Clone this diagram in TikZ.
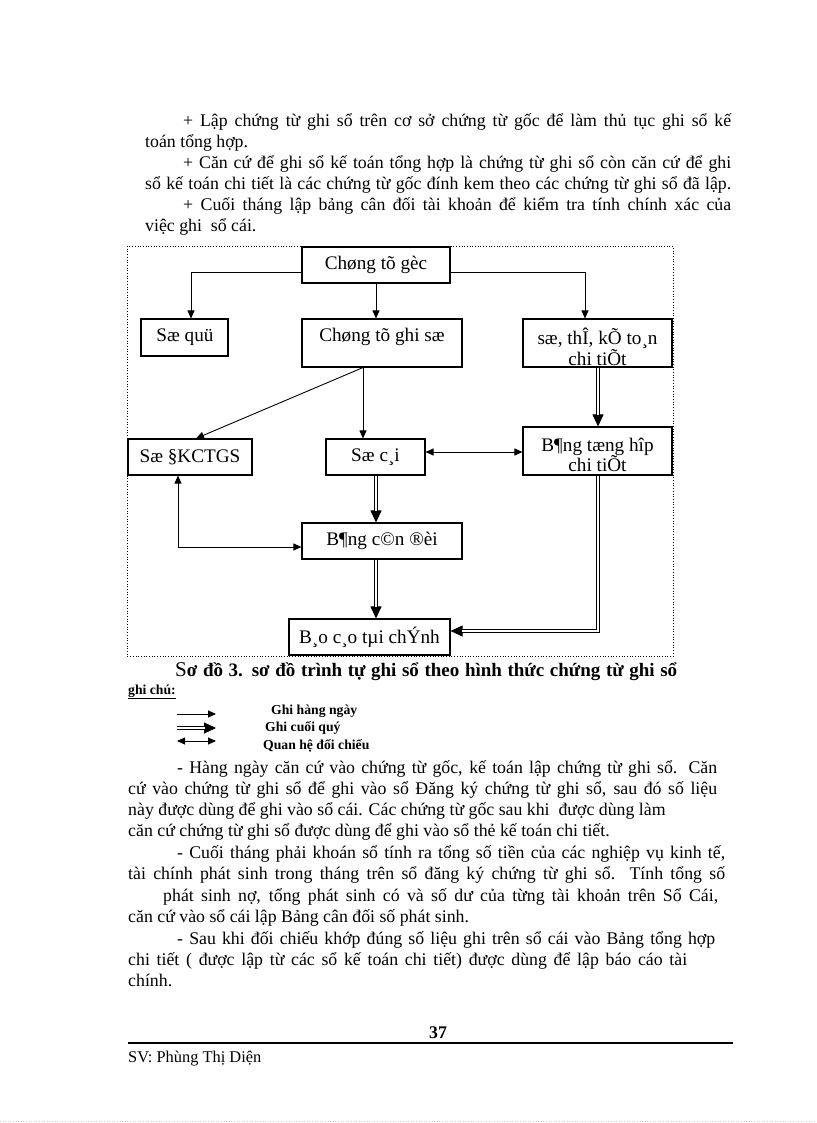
\documentclass[tikz,border=0pt]{standalone}
\usepackage{fontspec}
\setmainfont{Liberation Serif}
\usetikzlibrary{arrows.meta}
\begin{document}
\begin{tikzpicture}[x=1pt,y=-1pt,
  txt/.style={anchor=base west, inner sep=0pt, font=\fontsize{17.8}{21}\selectfont},
  box/.style={draw, line width=1.1pt, inner sep=0pt},
  blabel/.style={inner sep=0pt, align=center, font=\fontsize{19.2}{20.5}\selectfont},
  arr/.style={line width=0.9pt, -{Triangle[length=8pt,width=7pt]}},
  biarr/.style={line width=0.9pt, {Triangle[length=8pt,width=7pt]}-{Triangle[length=8pt,width=7pt]}},
  dbltip/.style={line width=0.9pt, -{Triangle[length=12pt,width=11pt]}},
  dblline/.style={double, double distance=2pt, line width=0.9pt, shorten >=11pt},
  legtxt/.style={anchor=base west, inner sep=0pt, font=\fontsize{13.7}{15}\selectfont\bfseries}
]
\useasboundingbox (0,0) rectangle (816,1123);
\fill[white] (0,0) rectangle (816,1123);

% ---------- top paragraph ----------
\node[txt] (t1) at (183,127) {\makebox[548pt][s]{+ Lập chứng từ ghi sổ trên cơ sở chứng từ gốc để làm thủ tục ghi sổ kế}};
\node[txt] (t2) at (145,148) {toán tổng hợp.};
\node[txt] (t3) at (183,169) {\makebox[548pt][s]{+ Căn cứ để ghi sổ kế toán tổng hợp là chứng từ ghi sổ còn căn cứ để ghi}};
\node[txt] (t4) at (145,190) {\makebox[586pt][s]{sổ kế toán chi tiết là các chứng từ gốc đính kem theo các chứng từ ghi sổ đã lập.}};
\node[txt] (t5) at (183,211) {\makebox[548pt][s]{+ Cuối tháng lập bảng cân đối tài khoản để kiểm tra tính chính xác của}};
\node[txt] (t6) at (145,232) {việc ghi\ \ sổ cái.};

% ---------- diagram ----------
\draw[dotted, line width=0.7pt] (127,246) rectangle (673,656);

\node[box, minimum width=148pt, minimum height=36pt] (goc) at (376,265) {};
\node[box, minimum width=87pt, minimum height=37pt] (quy) at (184.5,337.5) {};
\node[box, minimum width=160pt, minimum height=48pt] (ctgs) at (382,343) {};
\node[box, minimum width=149pt, minimum height=48pt] (thct) at (597.5,343) {};
\node[box, minimum width=124pt, minimum height=36pt] (dk) at (190,457) {};
\node[box, minimum width=99pt, minimum height=36pt] (cai) at (375.5,457) {};
\node[box, minimum width=149pt, minimum height=48pt] (thop) at (597.5,451) {};
\node[box, minimum width=160pt, minimum height=36pt] (cdoi) at (382,541) {};
\node[box, minimum width=161pt, minimum height=36pt] (bctc) at (369.5,637) {};

\node[blabel] (lgoc) at (376,265) {Chøng tõ gèc};
\node[blabel] (lquy) at (185,337) {Sæ quü};
\node[blabel] (lctgs) at (382,337) {Chøng tõ ghi sæ};
\node[blabel] (lthct) at (597.5,347) {sæ, thÎ, kÕ to¸n\\chi tiÕt};
\node[blabel] (ldk) at (190,457) {Sæ §KCTGS};
\node[blabel] (lcai) at (375.5,457) {Sæ c¸i};
\node[blabel] (lthop) at (597.5,455) {B¶ng tæng hîp\\chi tiÕt};
\node[blabel] (lcdoi) at (382,541) {B¶ng c©n ®èi};
\node[blabel] (lbctc) at (369.5,637) {B¸o c¸o tµi chÝnh};

\draw[arr] ([yshift=-7pt]goc.west) -| ([xshift=6.5pt]quy.north);
\draw[arr] (goc.south) -- (goc.south |- ctgs.north);
\draw[arr] ([yshift=-7pt]goc.east) -| ([xshift=-12.5pt]thct.north);
\coordinate (c1) at ([xshift=-19pt]ctgs.south);
\draw[arr] (c1) -- ([xshift=6pt]dk.north);
\draw[arr] (c1) -- (c1 |- cai.north);
\draw[biarr] ([yshift=5pt]cai.east) -- ([yshift=5pt]cai.east -| thop.west);
\draw[biarr] ([xshift=-12pt]dk.south) |- ([yshift=-6pt]cdoi.west);

% double (end-of-period) connectors: tip first, double line over it
\draw[dbltip] ([xshift=0.5pt]thct.south) -- ([xshift=0.5pt]thop.north);
\draw[dblline] ([xshift=0.5pt]thct.south) -- ([xshift=0.5pt]thop.north);
\draw[dbltip] ([xshift=0.5pt]cai.south) -- ([xshift=0.5pt]cai.south |- cdoi.north);
\draw[dblline] ([xshift=0.5pt]cai.south) -- ([xshift=0.5pt]cai.south |- cdoi.north);
\draw[dbltip] ([xshift=-6pt]cdoi.south) -- ([xshift=-6pt]cdoi.south |- bctc.north);
\draw[dblline] ([xshift=-6pt]cdoi.south) -- ([xshift=-6pt]cdoi.south |- bctc.north);
\draw[dbltip] ([xshift=0.5pt]thop.south) |- ([yshift=6pt]bctc.east);
\draw[dblline] ([xshift=0.5pt]thop.south) |- ([yshift=6pt]bctc.east);

% ---------- caption and legend ----------
\node[txt] (cap) at (175,676) {\makebox[502pt][s]{{\fontsize{21}{22}\selectfont S}\fontsize{19}{21}\selectfont\bfseries ơ đồ 3. sơ đồ trình tự ghi sổ theo hình thức chứng từ ghi sổ}};
\node[legtxt] (gc) at (128,694) {\underline{ghi chú:}};

\coordinate (la1) at (177,714);
\coordinate (la2) at (216,714);
\coordinate (lb1) at (177,728);
\coordinate (lb2) at (216,728);
\coordinate (lc1) at (177,741);
\coordinate (lc2) at (216,741);
\draw[arr] (la1) -- (la2);
\draw[dbltip] (lb1) -- (lb2);
\draw[dblline] (lb1) -- (lb2);
\draw[biarr] (lc1) -- (lc2);
\node[legtxt] (g1) at (271,714) {Ghi hàng ngày};
\node[legtxt] (g2) at (265,731) {Ghi cuối quý};
\node[legtxt] (g3) at (263,749) {Quan hệ đối chiếu};

% ---------- bottom paragraphs ----------
\node[txt] (b1) at (177,773) {\makebox[540pt][s]{- Hàng ngày căn cứ vào chứng từ gốc, kế toán lập chứng từ ghi sổ. Căn}};
\node[txt] (b2) at (128,794) {\makebox[589pt][s]{cứ vào chứng từ ghi sổ để ghi vào sổ Đăng ký chứng từ ghi sổ, sau đó số liệu}};
\node[txt] (b3) at (128,815) {này được dùng để ghi vào sổ cái. Các chứng từ gốc sau khi\ \ được dùng làm};
\node[txt] (b4) at (128,836) {căn cứ chứng từ ghi sổ được dùng để ghi vào sổ thẻ kế toán chi tiết.};
\node[txt] (b5) at (177,858) {\makebox[548pt][s]{- Cuối tháng phải khoán sổ tính ra tổng số tiền của các nghiệp vụ kinh tế,}};
\node[txt] (b6) at (128,879) {\makebox[597pt][s]{tài chính phát sinh trong tháng trên sổ đăng ký chứng từ ghi sổ. Tính tổng số}};
\node[txt] (b7) at (163,901) {\makebox[555pt][s]{phát sinh nợ, tổng phát sinh có và số dư của từng tài khoản trên Sổ Cái,}};
\node[txt] (b8) at (128,922) {căn cứ vào sổ cái lập Bảng cân đối số phát sinh.};
\node[txt] (b9) at (177,944) {\makebox[538pt][s]{- Sau khi đối chiếu khớp đúng số liệu ghi trên sổ cái vào Bảng tổng hợp}};
\node[txt] (b10) at (128,965) {\makebox[559pt][s]{chi tiết ( được lập từ các sổ kế toán chi tiết) được dùng để lập báo cáo tài}};
\node[txt] (b11) at (128,986) {chính.};

% ---------- footer ----------
\node[inner sep=0pt, anchor=base, font=\fontsize{17.8}{19}\selectfont\bfseries] (pg) at (438,1038) {37};
\coordinate (f1) at (128,1043);
\coordinate (f2) at (733,1043);
\draw[line width=2pt] (f1) -- (f2);
\node[anchor=base west, inner sep=0pt, font=\fontsize{16.4}{18}\selectfont] (sv) at (128,1062) {SV: Phùng Thị Diện};
\coordinate (d1) at (0,1121);
\coordinate (d2) at (816,1121);
\draw[dotted, gray!40, line width=0.6pt] (d1) -- (d2);
\end{tikzpicture}
\end{document}
